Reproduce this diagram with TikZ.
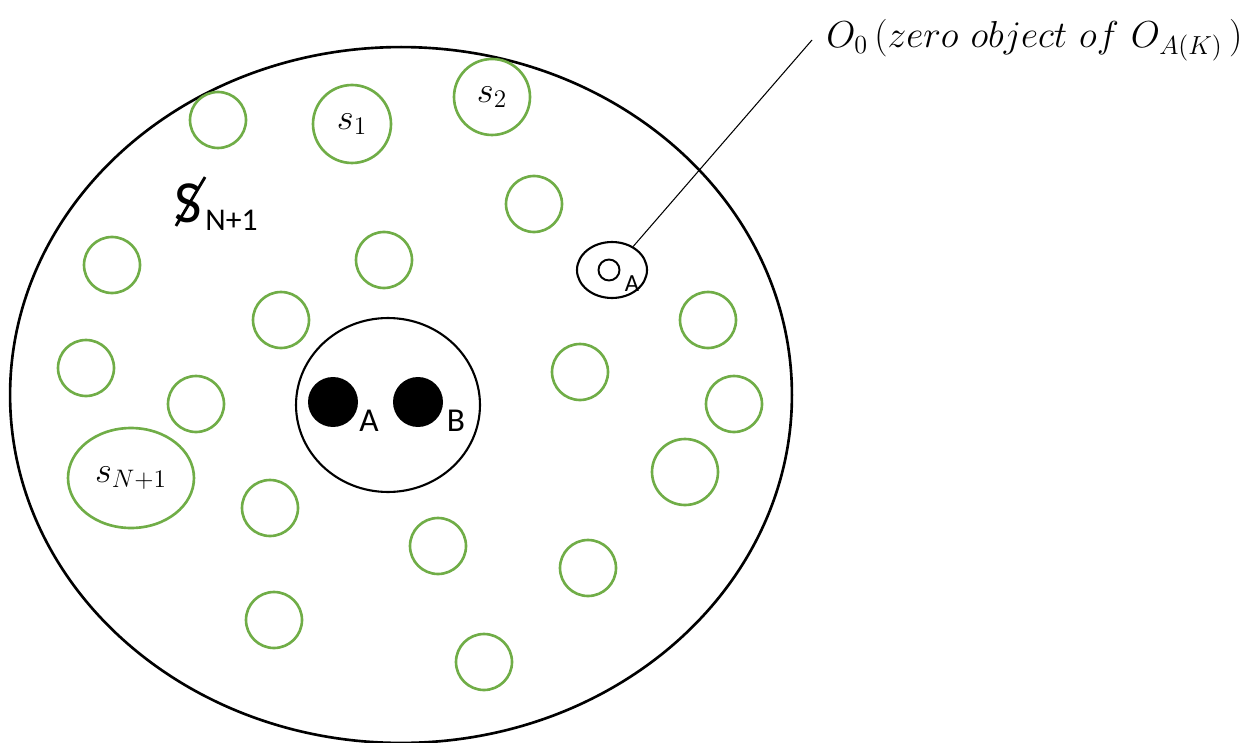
\documentclass[tikz,border=0pt]{standalone}
\usepackage{fontspec}
\setsansfont{Carlito}
\usetikzlibrary{shapes.geometric}
\definecolor{LeafGreen}{RGB}{112,173,71}

\begin{document}
\begin{tikzpicture}[
    x=0.02cm, y=-0.02cm,
    ring/.style={circle, draw=LeafGreen, line width=1.5pt, minimum size=1.12cm,
        inner sep=0pt, font=\fontsize{20}{22}\selectfont},
    blob/.style={circle, fill=black, minimum size=1cm, inner sep=0pt},
    tag/.style={font=\sffamily\fontsize{19}{21}\selectfont, inner sep=0pt},
]
\useasboundingbox (0,0) rectangle (1250,743);

% the big set
\node[ellipse, draw, line width=1.5pt, minimum width=15.64cm, minimum height=13.92cm,
    inner sep=0pt] (univ) at (401,395) {};

% plain green circles
\foreach \px/\py [count=\i] in {218/120, 534/204, 112/265, 384/260, 281/320,
    86/368, 196/404, 270/508, 438/546, 274/620, 484/662, 588/568, 580/372,
    708/320, 734/404}{
    \node[ring] (g\i) at (\px,\py) {};
}
\node[ring, minimum size=1.32cm] (g16) at (685,472) {};

% labelled circles
\node[ring, minimum size=1.56cm] (s1) at (352,124) {$s_1$};
\node[ring, minimum size=1.52cm] (s2) at (492,97) {$s_2$};
\node[ring, ellipse, minimum width=2.52cm, minimum height=2cm] (sn) at (131,478) {$s_{N+1}$};

% struck S
\node[font=\sffamily\fontsize{34}{36}\selectfont, inner sep=0pt] (bigs) at (188,203) {S};
\node[font=\sffamily\fontsize{18}{20}\selectfont, inner sep=0pt, anchor=west] (bigsub) at (205,220) {N+1};
\draw[line width=1.6pt] ([xshift=0.04cm, yshift=-0.06cm]bigs.south west) -- ([xshift=0.06cm, yshift=0.12cm]bigs.north east);

% the pair A, B
\node[ellipse, draw, line width=1.2pt, minimum width=3.68cm, minimum height=3.48cm,
    inner sep=0pt] (pair) at (388,405) {};
\node[blob] (a) at (333,402) {};
\node[blob] (b) at (418,402) {};
\node[tag] (la) at (369,421) {A};
\node[tag] (lb) at (456,421) {B};

% zero object
\node[ellipse, draw, line width=1.2pt, minimum width=1.4cm, minimum height=1.12cm,
    inner sep=0pt] (oa) at (612,270) {};
\node[circle, draw, line width=1.1pt, minimum size=0.42cm, inner sep=0pt] (zo) at (609,270) {};
\node[font=\sffamily\fontsize{14}{15}\selectfont, inner sep=0pt] (zoa) at (632,284) {A};

\node[anchor=west, inner sep=0pt, font=\fontsize{22}{24}\selectfont] (zero) at (826,40)
    {\scalebox{1.03}{$O_0\,(zero\ object\ of\ O_{A(K)}\,)$}};
\coordinate (tip) at (812,40);
\draw[line width=0.6pt] (oa.48) -- (tip);

\end{tikzpicture}
\end{document}
